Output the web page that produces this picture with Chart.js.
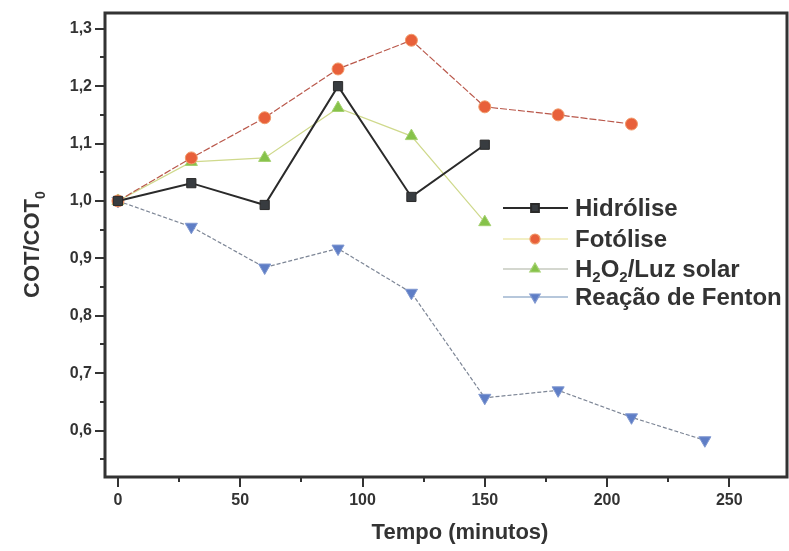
<!DOCTYPE html>
<html>
<head>
<meta charset="utf-8">
<script src="https://cdn.jsdelivr.net/npm/chart.js@4.4.1/dist/chart.umd.min.js"></script>
<style>
  html, body { margin: 0; padding: 0; background: #fff; overflow: hidden; }
  canvas { display: block; }
</style>
</head>
<body>
<canvas id="grafico" width="789" height="551"></canvas>
<script>
// valores
const tempo = [0, 30, 60, 90, 120, 150, 180, 210, 240];
const hidrolise = [1.0, 1.031, 0.993, 1.20, 1.007, 1.098];
const fotolise = [1.0, 1.075, 1.145, 1.23, 1.28, 1.164, 1.15, 1.134];
const h2o2Luz = [1.0, 1.068, 1.075, 1.162, 1.113, 0.963];
const fenton = [1.0, 0.955, 0.884, 0.917, 0.84, 0.657, 0.67, 0.623, 0.583];

const nomes = ["Hidrólise", "Fotólise", "H₂O₂/Luz solar", "Reação de Fenton"];

const xTicks = [0, 50, 100, 150, 200, 250];
const xMinor = [25, 75, 125, 175, 225];
const yTicks = [0.6, 0.7, 0.8, 0.9, 1.0, 1.1, 1.2, 1.3];
const yMinor = [0.55, 0.65, 0.75, 0.85, 0.95, 1.05, 1.15, 1.25];

const escuro = "#333333";
const fonte = "'Liberation Sans', Arial, sans-serif";
const subs = "₀₁₂₃₄₅₆₇₈₉";

function pontos(valores) {
  return valores.map((v, i) => ({ x: tempo[i], y: v }));
}

// texto com índices (₂ etc.) desenhados menores e mais baixos
function textoIndice(ctx, txt, x, y, tam, tamSub, desce) {
  let cx = x;
  for (const ch of txt) {
    const k = subs.indexOf(ch);
    if (k >= 0) {
      ctx.font = "bold " + tamSub + "px " + fonte;
      ctx.fillText(String(k), cx, y + desce);
      cx += ctx.measureText(String(k)).width;
    } else {
      ctx.font = "bold " + tam + "px " + fonte;
      ctx.fillText(ch, cx, y);
      cx += ctx.measureText(ch).width;
    }
  }
}

function semPadding(s) {
  s.paddingLeft = 0; s.paddingRight = 0; s.paddingTop = 0; s.paddingBottom = 0;
}

// eixos, marcas e legenda desenhados à mão
const moldura = {
  id: "moldura",
  afterDraw(chart) {
    const ctx = chart.ctx;
    const a = chart.chartArea;
    const sx = chart.scales.x, sy = chart.scales.y;
    ctx.save();

    // marcas dos eixos
    ctx.strokeStyle = escuro;
    ctx.lineWidth = 2;
    ctx.beginPath();
    xTicks.concat(xMinor).forEach(v => {
      const px = Math.round(sx.getPixelForValue(v));
      const len = xTicks.includes(v) ? 10 : 5;
      ctx.moveTo(px, a.bottom);
      ctx.lineTo(px, a.bottom + len);
    });
    yTicks.concat(yMinor).forEach(v => {
      const py = Math.round(sy.getPixelForValue(v));
      const len = yTicks.includes(v) ? 10 : 5;
      ctx.moveTo(a.left, py);
      ctx.lineTo(a.left - len, py);
    });
    ctx.stroke();

    // moldura
    ctx.lineWidth = 3;
    ctx.strokeRect(a.left, a.top, a.right - a.left - 1, a.bottom - a.top);

    // títulos
    ctx.fillStyle = escuro;
    ctx.font = "bold 22px " + fonte;
    ctx.textAlign = "center";
    ctx.textBaseline = "alphabetic";
    ctx.fillText("Tempo (minutos)", 460, 539);

    ctx.save();
    ctx.translate(39, 298);
    ctx.rotate(-Math.PI / 2);
    ctx.textAlign = "left";
    textoIndice(ctx, "COT/COT₀", 0, 0, 22, 14, 6);
    ctx.restore();

    // legenda
    const linhaY = [208, 239, 269, 297];
    chart.data.datasets.forEach((ds, i) => {
      const y = linhaY[i];
      ctx.strokeStyle = ds.legendLine || ds.borderColor;
      ctx.lineWidth = ds.borderWidth;
      ctx.setLineDash([]);
      ctx.beginPath();
      ctx.moveTo(503, y);
      ctx.lineTo(568, y);
      ctx.stroke();
      ctx.fillStyle = ds.pointBackgroundColor;
      ctx.strokeStyle = ds.pointBorderColor;
      Chart.helpers.drawPoint(ctx, {
        pointStyle: ds.pointStyle,
        rotation: ds.pointRotation || 0,
        radius: ds.pointRadius - 1,
        borderWidth: 1
      }, 535, y);
      ctx.fillStyle = escuro;
      ctx.textAlign = "left";
      ctx.textBaseline = "middle";
      textoIndice(ctx, nomes[i], 575, y + 1, 24, 15, 8);
    });

    ctx.restore();
  }
};

new Chart(document.getElementById("grafico"), {
  type: "line",
  data: {
    datasets: [
      {
        label: nomes[0],
        data: pontos(hidrolise),
        borderColor: "#2a2a2a",
        borderWidth: 2,
        pointStyle: "rect",
        pointRadius: 6.5,
        pointBackgroundColor: "#383c40",
        pointBorderColor: "#2a2a2a",
        pointBorderWidth: 1
      },
      {
        label: nomes[1],
        data: pontos(fotolise),
        borderColor: "#b9574a",
        legendLine: "#e6e08a",
        borderWidth: 1.2,
        borderDash: [7, 2],
        pointStyle: "circle",
        pointRadius: 6,
        pointBackgroundColor: "#e8603a",
        pointBorderColor: "#f09a6a",
        pointBorderWidth: 1
      },
      {
        label: nomes[2],
        data: pontos(h2o2Luz),
        borderColor: "#cfd98c",
        legendLine: "#a9b0a0",
        borderWidth: 1.2,
        pointStyle: "triangle",
        pointRadius: 7,
        pointBackgroundColor: "#86c24a",
        pointBorderColor: "#a4d070",
        pointBorderWidth: 1
      },
      {
        label: nomes[3],
        data: pontos(fenton),
        borderColor: "#7d8696",
        legendLine: "#6f8fb8",
        borderWidth: 1.2,
        borderDash: [4, 2],
        pointStyle: "triangle",
        pointRotation: 180,
        pointRadius: 7,
        pointBackgroundColor: "#5f7ec6",
        pointBorderColor: "#8098d0",
        pointBorderWidth: 1
      }
    ]
  },
  options: {
    responsive: false,
    animation: false,
    layout: { autoPadding: false, padding: { top: 13, right: 1, left: 0, bottom: 0 } },
    plugins: {
      legend: { display: false },
      tooltip: { enabled: false }
    },
    scales: {
      x: {
        type: "linear",
        min: -5.3,
        max: 274,
        afterFit: s => { s.height = 74; semPadding(s); },
        afterBuildTicks: s => { s.ticks = xTicks.map(v => ({ value: v })); },
        grid: { display: false, drawTicks: false },
        border: { display: false },
        ticks: {
          padding: 14,
          color: escuro,
          font: { family: fonte, size: 16, weight: "bold" },
          maxRotation: 0,
          callback: v => String(v)
        }
      },
      y: {
        type: "linear",
        min: 0.519,
        max: 1.3275,
        afterFit: s => { s.width = 105; semPadding(s); },
        afterBuildTicks: s => { s.ticks = yTicks.map(v => ({ value: v })); },
        grid: { display: false, drawTicks: false },
        border: { display: false },
        ticks: {
          padding: 13,
          color: escuro,
          font: { family: fonte, size: 16, weight: "bold" },
          callback: v => v.toFixed(1).replace(".", ",")
        }
      }
    }
  },
  plugins: [moldura]
});
</script>
</body>
</html>
